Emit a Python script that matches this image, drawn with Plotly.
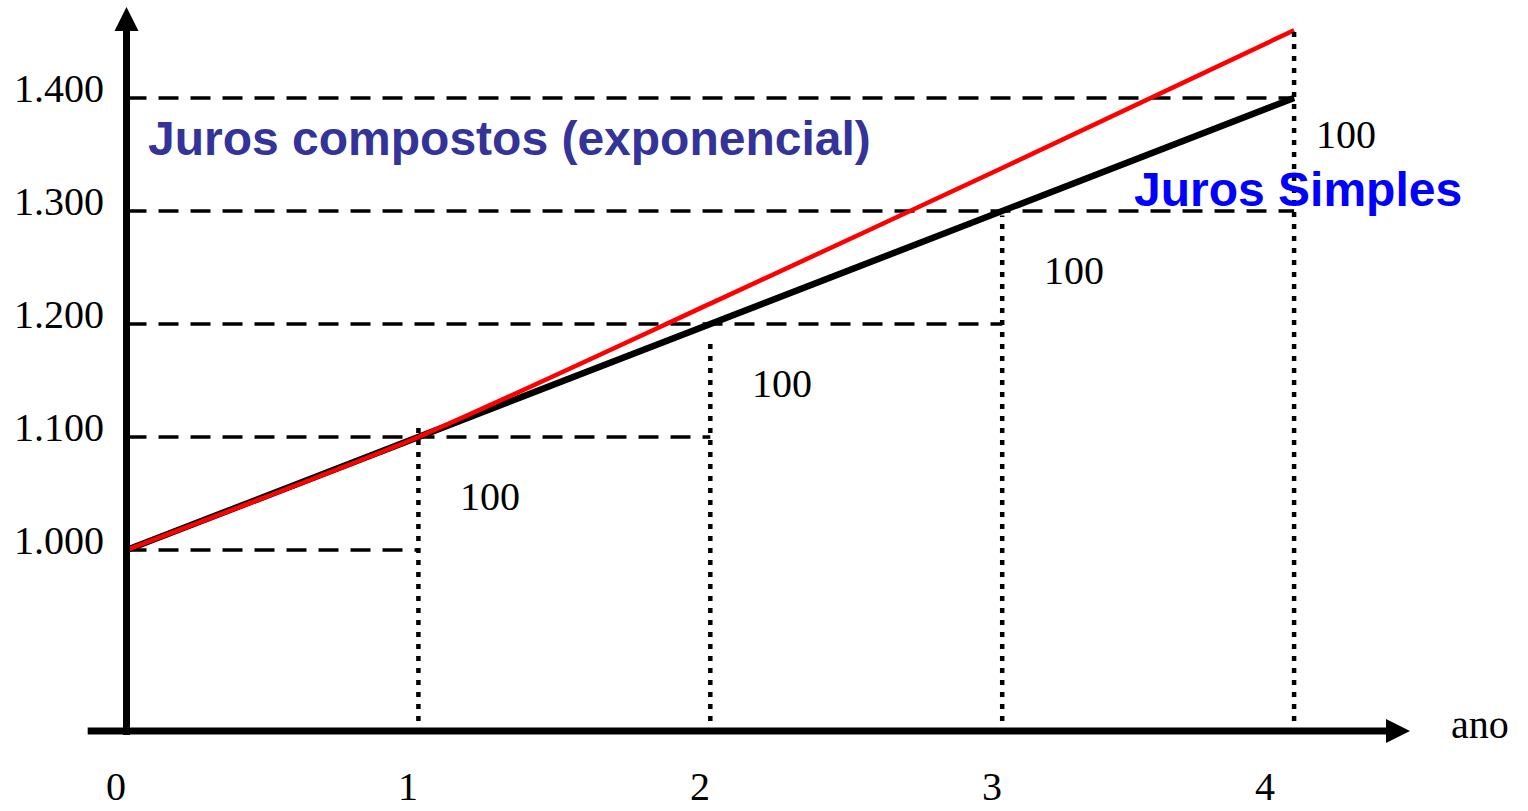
import plotly.graph_objects as go

# --- data -------------------------------------------------------------
anos = [0, 1, 2, 3, 4]
juros_simples = [1000, 1100, 1200, 1300, 1400]
juros_compostos = [1000, 1100, 1218, 1338, 1460]
y_ticks = [1000, 1100, 1200, 1300, 1400]
y_tick_text = ["1.000", "1.100", "1.200", "1.300", "1.400"]
x_tick_text = ["0", "1", "2", "3", "4"]
x_tick_pos = [-0.035, 0.965, 1.965, 2.965, 3.90]
incremento = ["100", "100", "100", "100"]
incremento_pos = [(1.245, 1047), (2.245, 1147), (3.245, 1247), (4.178, 1368)]
guia_topo = [1110, 1188, 1296, 1460]

# --- canvas geometry (data units) ------------------------------------
W, H = 1528, 811
X_RANGE = [-0.4334, 4.8013]
Y_RANGE = [769.03, 1486.73]
px_x = (X_RANGE[1] - X_RANGE[0]) / W   # data units per pixel, horizontal
px_y = (Y_RANGE[1] - Y_RANGE[0]) / H   # data units per pixel, vertical

Y_BASE = 839.8          # level of the horizontal axis
X_AXIS_START = -0.133
X_AXIS_TIP = 4.397
Y_AXIS_TIP = 1480.5
HEAD_LEN, HEAD_HALF = 24, 12  # arrow head size in pixels

SERIF = "Liberation Serif"
SANS = "Liberation Sans"

fig = go.Figure()

shapes = []
# dashed guides from the vertical axis
for i, v in enumerate(y_ticks):
    x_end = min(i + 1, 4)
    shapes.append(dict(type="line", x0=0, x1=x_end, y0=v, y1=v, layer="below",
                       line=dict(color="black", width=3.5, dash="20px,12px")))
# dotted verticals at each year
for i, top in enumerate(guia_topo):
    shapes.append(dict(type="line", x0=i + 1, x1=i + 1, y0=Y_BASE + 10 * px_y, y1=top,
                       layer="above" if i == 3 else "below",
                       line=dict(color="black", width=4.5, dash="5px,7px")))
# axes
shapes.append(dict(type="line", x0=X_AXIS_START, x1=X_AXIS_TIP - (HEAD_LEN - 2) * px_x,
                   y0=Y_BASE, y1=Y_BASE, layer="above", line=dict(color="black", width=7)))
shapes.append(dict(type="line", x0=0, x1=0, y0=Y_BASE - 4 * px_y,
                   y1=Y_AXIS_TIP - (HEAD_LEN - 2) * px_y, layer="above",
                   line=dict(color="black", width=7)))
# arrow heads
bx = X_AXIS_TIP - HEAD_LEN * px_x
shapes.append(dict(type="path", layer="above", fillcolor="black", line=dict(width=0),
                   path=f"M {X_AXIS_TIP} {Y_BASE} L {bx} {Y_BASE + HEAD_HALF * px_y} "
                        f"L {bx} {Y_BASE - HEAD_HALF * px_y} Z"))
by = Y_AXIS_TIP - HEAD_LEN * px_y
shapes.append(dict(type="path", layer="above", fillcolor="black", line=dict(width=0),
                   path=f"M 0 {Y_AXIS_TIP} L {HEAD_HALF * px_x} {by} "
                        f"L {-HEAD_HALF * px_x} {by} Z"))

# series
fig.add_trace(go.Scatter(x=anos, y=juros_simples, mode="lines",
                         line=dict(color="black", width=6.5), hoverinfo="skip"))
fig.add_trace(go.Scatter(x=anos, y=juros_compostos, mode="lines",
                         line=dict(color="#ff0000", width=4.5, shape="spline", smoothing=0.6),
                         hoverinfo="skip"))

annotations = []
for v, t in zip(y_ticks, y_tick_text):
    annotations.append(dict(x=-0.07, y=v + 10 * px_y, text=t, showarrow=False,
                            xanchor="right", yanchor="middle",
                            font=dict(family=SERIF, size=40, color="black")))
for xp, t in zip(x_tick_pos, x_tick_text):
    annotations.append(dict(x=xp, y=Y_BASE - 55 * px_y, text=t, showarrow=False,
                            xanchor="center", yanchor="middle",
                            font=dict(family=SERIF, size=40, color="black")))
for (xp, yp), t in zip(incremento_pos, incremento):
    annotations.append(dict(x=xp, y=yp, text=t, showarrow=False,
                            xanchor="center", yanchor="middle",
                            font=dict(family=SERIF, size=40, color="black")))
annotations.append(dict(x=4.637, y=Y_BASE + 7 * px_y, text="ano", showarrow=False,
                        xanchor="center", yanchor="middle",
                        font=dict(family=SERIF, size=40, color="black")))
annotations.append(dict(x=0.068, y=1364, text="<b>Juros compostos (exponencial)</b>",
                        showarrow=False, xanchor="left", yanchor="middle",
                        font=dict(family=SANS, size=48, color="#333399")))
annotations.append(dict(x=3.444, y=1319, text="<b>Juros Simples</b>",
                        showarrow=False, xanchor="left", yanchor="middle",
                        font=dict(family=SANS, size=48, color="#0000ff")))

fig.update_layout(
    width=W, height=H,
    margin=dict(l=0, r=0, t=0, b=0),
    paper_bgcolor="white", plot_bgcolor="white",
    showlegend=False,
    xaxis=dict(range=X_RANGE, visible=False, fixedrange=True),
    yaxis=dict(range=Y_RANGE, visible=False, fixedrange=True),
    shapes=shapes,
    annotations=annotations,
)

fig.write_html("out.html", config={"displayModeBar": False})
